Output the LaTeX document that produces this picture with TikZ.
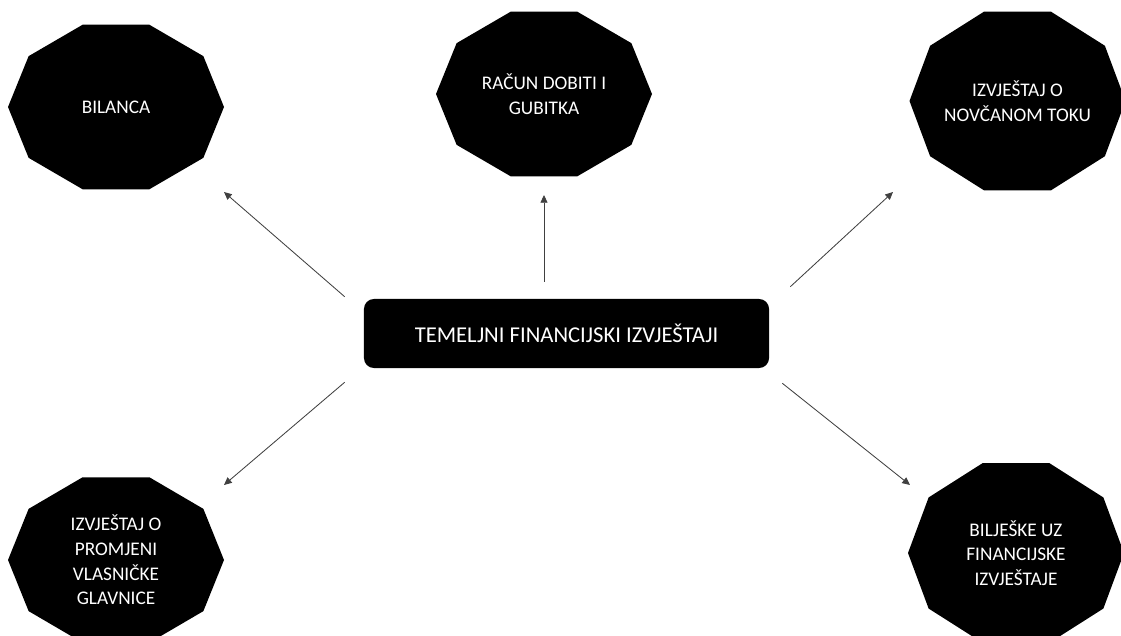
\documentclass[tikz,border=0pt]{standalone}
\usepackage{fontspec}
\setmainfont{Carlito}
\usetikzlibrary{arrows.meta,positioning,backgrounds}

\tikzset{
  stmt/.style={text=white, align=center, font=\fontsize{13.7}{17.5}\selectfont},
  core/.style={fill=black, text=white, rounded corners=0.25cm,
    minimum width=10.125cm, minimum height=1.725cm, font=\fontsize{16.1}{20}\selectfont},
  arr/.style={draw=black!75, line width=0.6pt, -{Triangle[length=5.5pt,width=5pt]}}
}
% decagon round a node: #1 node, #2 vertical radius
\newcommand{\decagon}[2]{%
  \fill[black] ([shift={(0:108 and #2)}]#1.center)
    \foreach \a in {36,72,...,324} { -- ([shift={(\a:108 and #2)}]#1.center) } -- cycle;
}

\begin{document}
\begin{tikzpicture}[x=0.025cm, y=-0.025cm]
  \useasboundingbox (0,0) rectangle (1121,636);
  % Define nodes
  \node[core] (tfi) at (566.5,333.5) {TEMELJNI FINANCIJSKI IZVJEŠTAJI};
  \node[stmt] (bil) at (116,107)    {BILANCA};
  \node[stmt] (rdg) at (544,94)     {RAČUN DOBITI I\\GUBITKA};
  \node[stmt] (ntk) at (1017.5,101) {IZVJEŠTAJ O\\NOVČANOM TOKU};
  \node[stmt] (pvg) at (116,560)    {IZVJEŠTAJ O\\PROMJENI\\VLASNIČKE\\GLAVNICE};
  \node[stmt] (bfi) at (1016,553)   {BILJEŠKE UZ\\FINANCIJSKE\\IZVJEŠTAJE};
  % Define decagons
  \begin{scope}[on background layer]
    \decagon{bil}{86.5}
    \decagon{rdg}{86.5}
    \decagon{ntk}{94}
    \decagon{pvg}{87}
    \decagon{bfi}{94.5}
  \end{scope}
  % Define edges
  \draw[arr] ([shift={(-19,-2)}]tfi.north west) -- ([shift={(108,85)}]bil.center);
  \draw[arr] ([shift={(-22.5,-17)}]tfi.north) -- ([shift={(0,101)}]rdg.center);
  \draw[arr] ([shift={(21,-12)}]tfi.north east) -- ([shift={(-124.5,91)}]ntk.center);
  \draw[arr] ([shift={(-19,14)}]tfi.south west) -- ([shift={(108,-75)}]pvg.center);
  \draw[arr] ([shift={(13,15)}]tfi.south east) -- ([shift={(-106,-68)}]bfi.center);
\end{tikzpicture}
\end{document}
